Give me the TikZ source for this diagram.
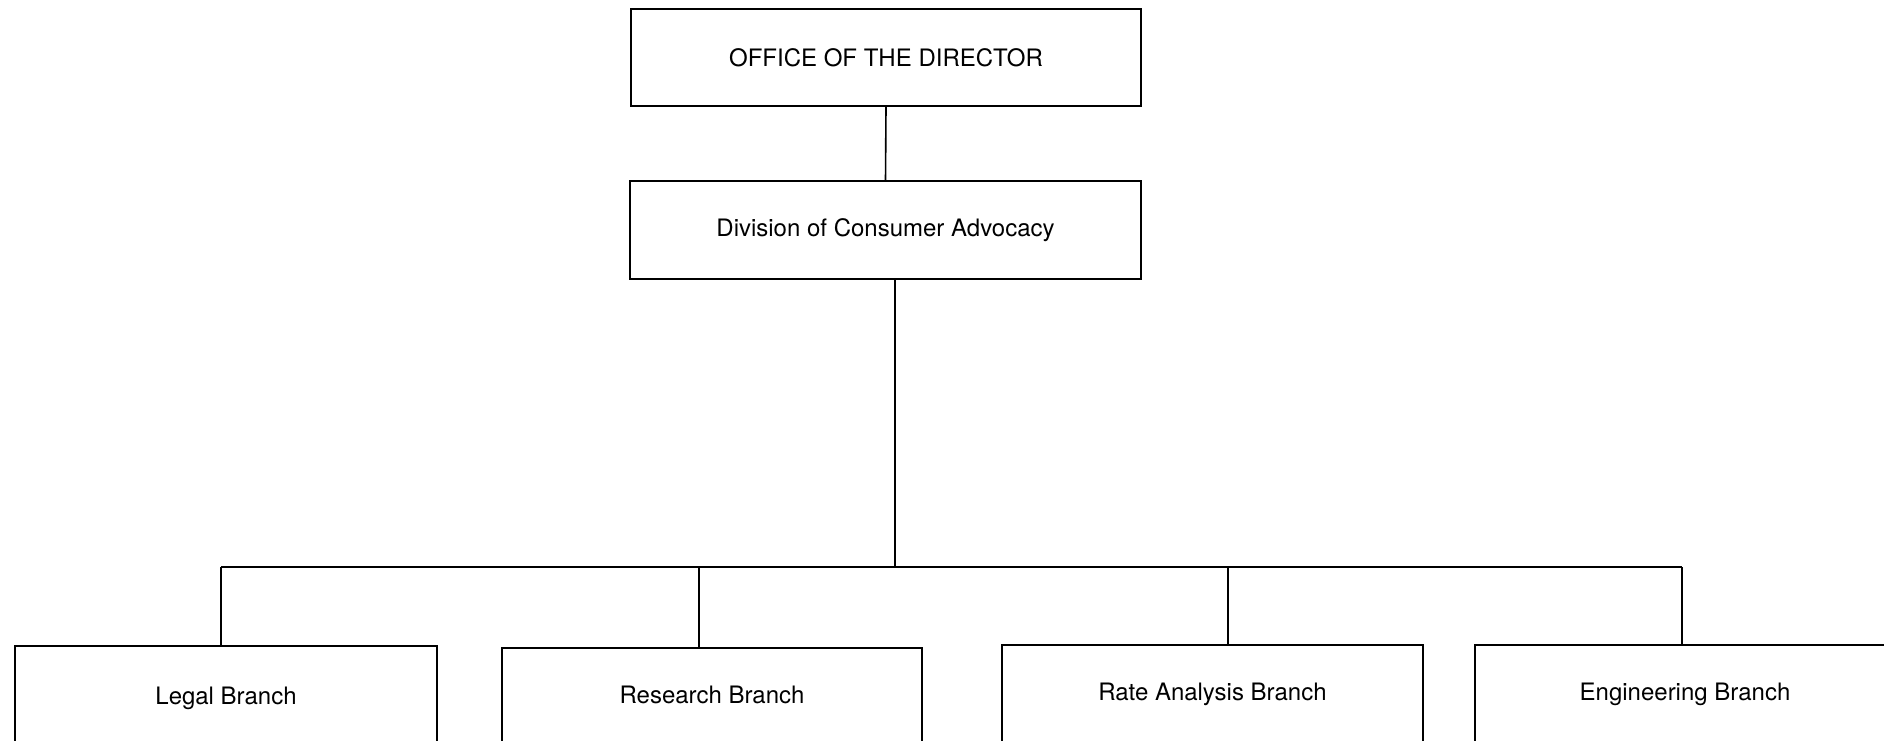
\documentclass[tikz,border=0pt]{standalone}
\usepackage{fontspec}
\setmainfont{TeX Gyre Heros}
\usetikzlibrary{positioning,calc}

\tikzset{
  unit/.style={draw, line width=1.2pt, inner sep=0pt, align=center,
    font=\fontsize{18}{22}\selectfont},
  link/.style={line width=1.2pt}
}

\begin{document}
\begin{tikzpicture}[x=0.75pt, y=-0.75pt]
    \useasboundingbox (0,0) rectangle (1884,740);

    \node[unit, minimum width=510*0.75pt, minimum height=97*0.75pt] (dir) at (886,57.5) {OFFICE OF THE DIRECTOR};
    \node[unit, minimum width=511*0.75pt, minimum height=98*0.75pt] (dca) at (885.5,230) {Division of Consumer Advocacy};

    \node[unit, minimum width=422*0.75pt, minimum height=104*0.75pt] (legal) at (226,698) {Legal Branch};
    \node[unit, minimum width=420*0.75pt, minimum height=94*0.75pt] (research) at (712,695) {Research Branch};
    \node[unit, minimum width=421*0.75pt, minimum height=98*0.75pt] (rate) at (1212.5,694) {Rate Analysis Branch};
    \node[unit, minimum width=420*0.75pt, minimum height=98*0.75pt] (eng) at (1685,694) {Engineering Branch};

    \draw[link] (dir.south) -- (dca.north);

    % bus to the branches
    \coordinate (hub) at (895,567);
    \coordinate (b1) at (221,567);
    \coordinate (b2) at (699,567);
    \coordinate (b3) at (1228,567);
    \coordinate (b4) at (1682,567);
    \draw[link] (hub |- dca.south) -- (hub);
    \draw[link] (b1) -- (b4);
    \draw[link] (b1) -- (b1 |- legal.north);
    \draw[link] (b2) -- (b2 |- research.north);
    \draw[link] (b3) -- (b3 |- rate.north);
    \draw[link] (b4) -- (b4 |- eng.north);
\end{tikzpicture}
\end{document}
